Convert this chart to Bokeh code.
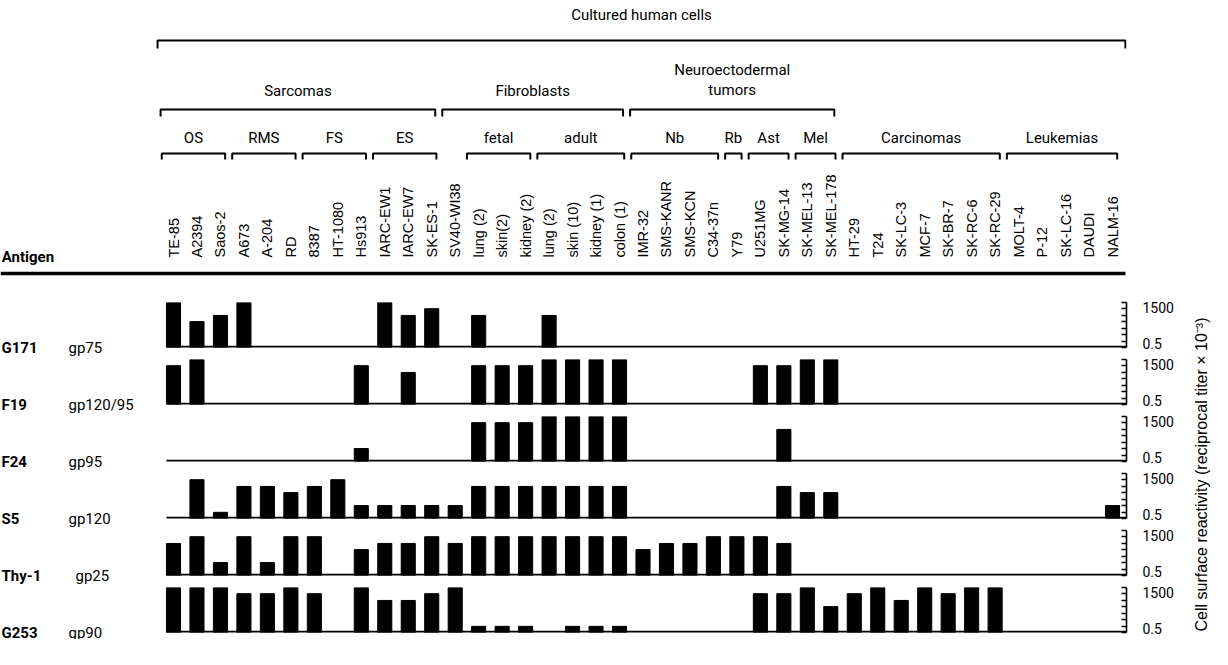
import math
from bokeh.plotting import figure
from bokeh.models import Range1d, FixedTicker
from bokeh.layouts import column, row
from bokeh.embed import file_html
from bokeh.resources import INLINE
from bokeh.core.properties import value

# ---------------- data ----------------
cells = ["TE-85", "A2394", "Saos-2", "A673", "A-204", "RD", "8387", "HT-1080", "Hs913",
         "IARC-EW1", "IARC-EW7", "SK-ES-1", "SV40-WI38", "lung (2)", "skin(2)", "kidney (2)",
         "lung (2)", "skin (10)", "kidney (1)", "colon (1)", "IMR-32", "SMS-KANR", "SMS-KCN",
         "C34-37n", "Y79", "U251MG", "SK-MG-14", "SK-MEL-13", "SK-MEL-178", "HT-29", "T24",
         "SK-LC-3", "MCF-7", "SK-BR-7", "SK-RC-6", "SK-RC-29", "MOLT-4", "P-12", "SK-LC-16",
         "DAUDI", "NALM-16"]

antigens = ["G171", "F19", "F24", "S5", "Thy-1", "G253"]
glycoproteins = ["gp75", "gp120/95", "gp95", "gp120", "gp25", "gp90"]

# reciprocal titer x 10^-3 ; 0 = no reactivity
g171 = [1500, 50, 150, 1500, 0, 0, 0, 0, 0, 1500, 150, 500, 0, 150, 0, 0, 150, 0, 0, 0,
        0, 0, 0, 0, 0, 0, 0, 0, 0, 0, 0, 0, 0, 0, 0, 0, 0, 0, 0, 0, 0]
f19 = [500, 1500, 0, 0, 0, 0, 0, 0, 500, 0, 150, 0, 0, 500, 500, 500, 1500, 1500, 1500, 1500,
       0, 0, 0, 0, 0, 500, 500, 1500, 1500, 0, 0, 0, 0, 0, 0, 0, 0, 0, 0, 0, 0]
f24 = [0, 0, 0, 0, 0, 0, 0, 0, 5, 0, 0, 0, 0, 500, 500, 500, 1500, 1500, 1500, 1500,
       0, 0, 0, 0, 0, 0, 150, 0, 0, 0, 0, 0, 0, 0, 0, 0, 0, 0, 0, 0, 0]
s5 = [0, 500, 1.5, 150, 150, 50, 150, 500, 5, 5, 5, 5, 5, 150, 150, 150, 150, 150, 150, 150,
      0, 0, 0, 0, 0, 0, 150, 50, 50, 0, 0, 0, 0, 0, 0, 0, 0, 0, 0, 0, 5]
thy1 = [150, 500, 5, 500, 5, 500, 500, 0, 50, 150, 150, 500, 150, 500, 500, 500, 500, 500, 500, 500,
        50, 150, 150, 500, 500, 500, 150, 0, 0, 0, 0, 0, 0, 0, 0, 0, 0, 0, 0, 0, 0]
g253 = [1500, 1500, 1500, 500, 500, 1500, 500, 0, 1500, 150, 150, 500, 1500, 1.5, 1.5, 1.5, 0, 1.5, 1.5, 1.5,
        0, 0, 0, 0, 0, 500, 500, 1500, 50, 500, 1500, 150, 1500, 500, 1500, 1500, 0, 0, 0, 0, 0]
series = [g171, f19, f24, s5, thy1, g253]

axis_min, axis_max = 0.5, 1500
axis_ruler = [0.5, 1.5, 5, 15, 50, 150, 500, 1500]
axis_labels = ["0.5", "1500"]

title_top = "Cultured human cells"
level2_names = ["Sarcomas", "Fibroblasts", "Neuroectodermal\ntumors"]
level2_span = [(0, 11), (12, 19), (20, 28)]
level3_names = ["OS", "RMS", "FS", "ES", "fetal", "adult", "Nb", "Rb", "Ast", "Mel",
                "Carcinomas", "Leukemias"]
level3_span = [(0, 2), (3, 5), (6, 8), (9, 11), (13, 15), (16, 19), (20, 23), (24, 24),
               (25, 26), (27, 28), (29, 35), (36, 40)]
y_title = "Cell surface reactivity (reciprocal titer \u00d7 10\u207b\u00b3)"

# ---------------- layout constants ----------------
COND = "Roboto"
SANS = "Liberation Sans"
W_COL = 1176
W_TITLE = 36
L_W = 164
H_HEAD = 297
H_ROW = 57
B_TOP, B_BOT = 5, 7
B_RIGHT = 50
FRAME_W = W_COL - B_RIGHT
STEP = 23.475       # px per cell
X0 = 173            # px of first cell centre from the column's left edge
BAR_W = 0.6

idx = list(range(len(cells)))
x_end = (FRAME_W - X0) / STEP


def common(p):
    p.grid.visible = False
    p.outline_line_color = None
    p.background_fill_color = None
    p.border_fill_color = None
    return p


# ---------------- header ----------------
x_start_head = -X0 / STEP
head = common(figure(width=W_COL, height=H_HEAD, x_range=Range1d(x_start_head, x_end),
                     y_range=Range1d(H_HEAD, 0), x_axis_location=None, y_axis_location=None,
                     output_backend="svg", toolbar_location=None, min_border_left=0,
                     min_border_right=B_RIGHT, min_border_top=0, min_border_bottom=0))


def brackets(p, spans, y, depth, lpad, rpad, lw=2):
    xs = [[f - lpad, f - lpad, l + rpad, l + rpad] for f, l in spans]
    ys = [[y + depth, y, y, y + depth] for _ in spans]
    p.multi_line(xs, ys, line_color="black", line_width=lw)
    return [((f - lpad) + (l + rpad)) / 2 for f, l in spans]


c1 = brackets(head, [(0, len(cells) - 1)], 40, 8, 0.68, 0.55)
head.text(x=c1, y=[14], text=[title_top], text_font=value(COND), text_font_size="15px",
          text_align="center", text_baseline="middle")

c2 = brackets(head, level2_span, 109, 7, 0.55, 0.15)
head.text(x=c2, y=[99] * len(c2), text=level2_names, text_font=value(COND),
          text_font_size="15px", text_align="center", text_baseline="bottom",
          text_line_height=1.15)

c3 = brackets(head, level3_span, 153, 6, 0.5, 0.2)
head.text(x=c3, y=[137] * len(c3), text=level3_names, text_font=value(COND),
          text_font_size="15px", text_align="center", text_baseline="middle")

head.text(x=idx, y=[257] * len(idx), text=cells, angle=math.pi / 2,
          text_font=value(SANS), text_font_size="14.5px", text_align="left",
          text_baseline="middle")

head.text(x=[x_start_head + 0.05], y=[256], text=["Antigen"], text_font=value(COND),
          text_font_style="bold", text_font_size="15px", text_align="left",
          text_baseline="middle")

head.segment(x0=[x_start_head], y0=[273], x1=[len(cells) - 1 + 0.55], y1=[273],
             line_color="black", line_width=3.5)

# ---------------- row labels (left column) ----------------
H_ROWS = H_ROW * len(antigens)
labs = common(figure(width=L_W, height=H_ROWS, x_range=Range1d(0, L_W),
                     y_range=Range1d(H_ROWS, 0), x_axis_location=None, y_axis_location=None,
                     output_backend="svg", toolbar_location=None, min_border=0))
base_y = [k * H_ROW + H_ROW - B_BOT for k in range(len(antigens))]
labs.text(x=[1] * len(antigens), y=base_y, text=antigens, text_font=value(COND),
          text_font_style="bold", text_font_size="15px", text_align="left",
          text_baseline="alphabetic")
gp_x = [75 if a == "Thy-1" else 68 for a in antigens]
labs.text(x=gp_x, y=base_y, text=glycoproteins, text_font=value(COND),
          text_font_size="15px", text_align="left", text_baseline="alphabetic")

# ---------------- bar rows ----------------
x_start_row = (L_W - X0) / STEP
FRAME_H = H_ROW - B_TOP - B_BOT
span = math.log(axis_max / axis_min)
# the two axis texts sit a few px inside the ends of the ruler
lab_lo = axis_min * math.exp(span * 4 / FRAME_H)
lab_hi = axis_max * math.exp(-span * 5 / FRAME_H)

rows = []
for k, vals in enumerate(series):
    p = common(figure(width=W_COL - L_W, height=H_ROW, x_range=Range1d(x_start_row, x_end),
                      y_range=Range1d(axis_min, axis_max), y_axis_type="log",
                      x_axis_location=None, y_axis_location="right", output_backend="svg",
                      toolbar_location=None, min_border_left=0, min_border_right=B_RIGHT,
                      min_border_top=B_TOP, min_border_bottom=B_BOT))
    ax = p.yaxis[0]
    ax.ticker = FixedTicker(ticks=[lab_lo, lab_hi], minor_ticks=axis_ruler)
    ax.major_label_overrides = {lab_lo: axis_labels[0], lab_hi: axis_labels[1]}
    ax.major_tick_line_color = None
    ax.minor_tick_in = 5
    ax.minor_tick_out = 0
    ax.minor_tick_line_width = 1.3
    ax.axis_line_width = 1.6
    ax.major_label_standoff = 10
    ax.major_label_text_font = COND
    ax.major_label_text_font_size = "14px"
    ax.major_label_text_color = "black"

    xs = [i for i, v in zip(idx, vals) if v > 0]
    tops = [v for v in vals if v > 0]
    p.vbar(x=xs, width=BAR_W, bottom=axis_min, top=tops, fill_color="black",
           line_color="black")
    p.segment(x0=[-BAR_W / 2], y0=[axis_min], x1=[x_end], y1=[axis_min],
              line_color="black", line_width=3.5)
    rows.append(p)

body = row(labs, column(*rows))

# ---------------- right title ----------------
H_ALL = H_HEAD + H_ROWS
tfig = common(figure(width=W_TITLE, height=H_ALL, x_range=Range1d(0, W_TITLE),
                     y_range=Range1d(H_ALL, 0), x_axis_location=None, y_axis_location=None,
                     output_backend="svg", toolbar_location=None, min_border=0))
tfig.text(x=[25], y=[474], text=[y_title], angle=math.pi / 2,
          text_font=value(SANS), text_font_size="16px", text_align="center",
          text_baseline="middle")

layout = row(column(head, body), tfig)
open("out.html", "w").write(file_html(layout, INLINE))
